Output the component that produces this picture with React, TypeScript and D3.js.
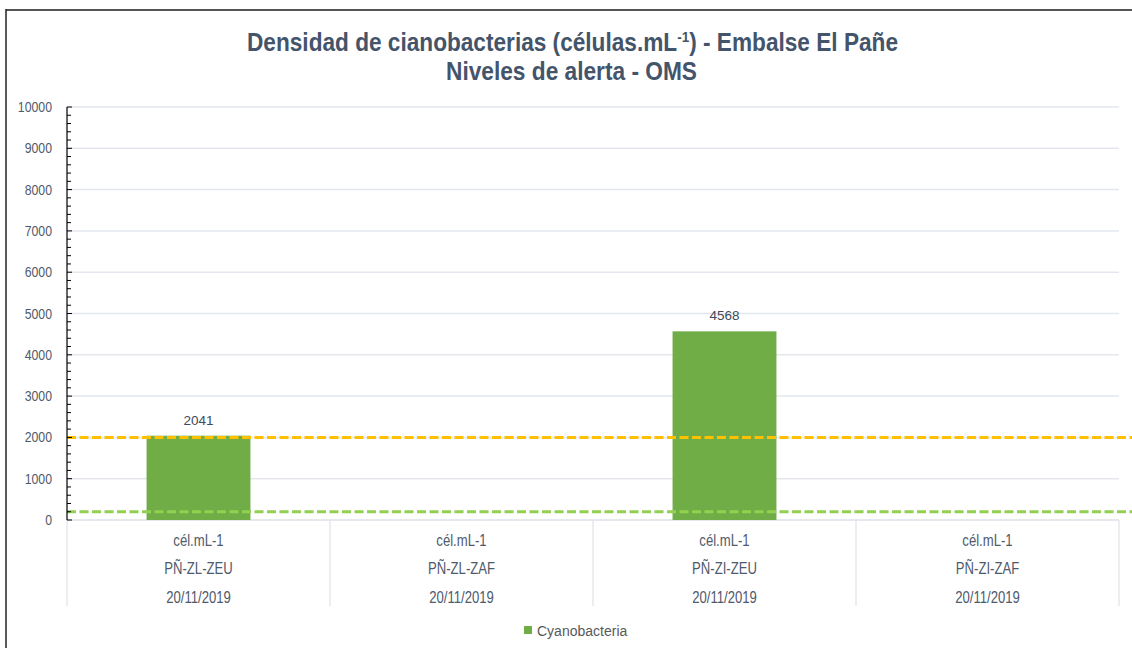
import React from "react";
import * as d3 from "d3";

const categories = ["PÑ-ZL-ZEU", "PÑ-ZL-ZAF", "PÑ-ZI-ZEU", "PÑ-ZI-ZAF"];
const units = ["cél.mL-1", "cél.mL-1", "cél.mL-1", "cél.mL-1"];
const dates = ["20/11/2019", "20/11/2019", "20/11/2019", "20/11/2019"];
const cyanobacteria: (number | null)[] = [2041, null, 4568, null];
const yTicks = [0, 1000, 2000, 3000, 4000, 5000, 6000, 7000, 8000, 9000, 10000];
const alertLevels = [
  { value: 2000, color: "#FFC000" },
  { value: 200, color: "#92D050" },
];
const seriesName = "Cyanobacteria";

const W = 1132;
const H = 648;
const left = 67;
const right = 1119;
const top = 107;
const bottom = 520;

const SANS = "'Liberation Sans', Arial, sans-serif";

function NText(props: {
  x: number;
  y: number;
  anchor?: "start" | "middle" | "end";
  size: number;
  fill: string;
  children: React.ReactNode;
}) {
  return (
    <text
      transform={`translate(${props.x},${props.y}) scale(0.82,1)`}
      textAnchor={props.anchor || "start"}
      fontFamily={SANS}
      fontSize={props.size}
      fill={props.fill}
    >
      {props.children}
    </text>
  );
}

export default function App() {
  const x = d3.scaleBand<string>().domain(categories).range([left, right]).paddingInner(0).paddingOuter(0);
  const y = d3.scaleLinear().domain([0, 10000]).range([bottom, top]);
  const minorTicks = d3.range(0, 10001, 200);
  const bw = x.bandwidth() * 0.395;
  const labelColor = "#4f5a6c";

  return (
    <svg width={W} height={H} style={{ position: "absolute", left: 0, top: 0, background: "#fff" }}>
      <rect x={0} y={0} width={W} height={H} fill="#fff" />
      {/* frame */}
      <line x1={6} x2={W} y1={10} y2={10} stroke="#555" strokeWidth={2} />
      <line x1={6} x2={6} y1={9} y2={H} stroke="#222" strokeWidth={1.5} />

      {/* title */}
      <text
        x={247}
        y={51}
        textLength={651}
        lengthAdjust="spacingAndGlyphs"
        fill="#44546A"
        fontFamily={SANS}
        fontWeight="bold"
        fontSize={25}
      >
        Densidad de cianobacterias (células.mL
        <tspan dy={-9} fontSize={15}>-1</tspan>
        <tspan dy={9}>) - Embalse El Pañe</tspan>
      </text>
      <text
        x={446}
        y={80}
        textLength={251}
        lengthAdjust="spacingAndGlyphs"
        fill="#44546A"
        fontFamily={SANS}
        fontWeight="bold"
        fontSize={25}
      >
        Niveles de alerta - OMS
      </text>

      {/* gridlines */}
      {yTicks.map((t) => (
        <line key={"g" + t} x1={left} x2={right} y1={y(t)} y2={y(t)} stroke="#e3e7ed" strokeWidth={1.5} />
      ))}

      {/* category box */}
      {x.domain().map((c) => (
        <line key={"s" + c} x1={x(c)!} x2={x(c)!} y1={bottom} y2={606} stroke="#dfe3e9" strokeWidth={1.2} />
      ))}
      <line x1={right} x2={right} y1={bottom} y2={606} stroke="#dfe3e9" strokeWidth={1.2} />
      <line x1={left} x2={right} y1={bottom} y2={bottom} stroke="#dfe3e9" strokeWidth={1.2} />

      {/* bars */}
      {categories.map((c, i) =>
        cyanobacteria[i] == null ? null : (
          <g key={"b" + c}>
            <rect
              x={x(c)! + x.bandwidth() / 2 - bw / 2}
              y={y(cyanobacteria[i] as number)}
              width={bw}
              height={bottom - y(cyanobacteria[i] as number)}
              fill="#70AD47"
            />
            <text
              x={x(c)! + x.bandwidth() / 2}
              y={y(cyanobacteria[i] as number) - 11}
              textAnchor="middle"
              fill="#404a5a"
              fontFamily={SANS}
              fontSize={13.5}
            >
              {cyanobacteria[i]}
            </text>
          </g>
        )
      )}

      {/* alert lines */}
      {alertLevels.map((a) => (
        <line
          key={"a" + a.value}
          x1={left}
          x2={W}
          y1={y(a.value)}
          y2={y(a.value)}
          stroke={a.color}
          strokeWidth={3}
          strokeDasharray="9,3.5"
        />
      ))}

      {/* y axis */}
      <line x1={left} x2={left} y1={top} y2={bottom} stroke="#000" strokeWidth={1.2} />
      {minorTicks.map((t) => (
        <line key={"m" + t} x1={left} x2={left + (t % 1000 === 0 ? 5 : 4)} y1={y(t)} y2={y(t)} stroke="#000" strokeWidth={1} />
      ))}
      {yTicks.map((t) => (
        <NText key={"yl" + t} x={52} y={y(t) + 5} anchor="end" size={15} fill={labelColor}>
          {t}
        </NText>
      ))}

      {/* category labels */}
      {categories.map((c, i) => {
        const cx = x(c)! + x.bandwidth() / 2;
        return (
          <g key={"cl" + c}>
            <NText x={cx} y={546} anchor="middle" size={16} fill={labelColor}>{units[i]}</NText>
            <NText x={cx} y={574} anchor="middle" size={16} fill={labelColor}>{c}</NText>
            <NText x={cx} y={603} anchor="middle" size={16} fill={labelColor}>{dates[i]}</NText>
          </g>
        );
      })}

      {/* legend */}
      <rect x={524} y={626} width={8} height={8} fill="#70AD47" />
      <text x={537} y={635.5} fill="#595959" fontFamily={SANS} fontSize={14}>
        {seriesName}
      </text>
    </svg>
  );
}
